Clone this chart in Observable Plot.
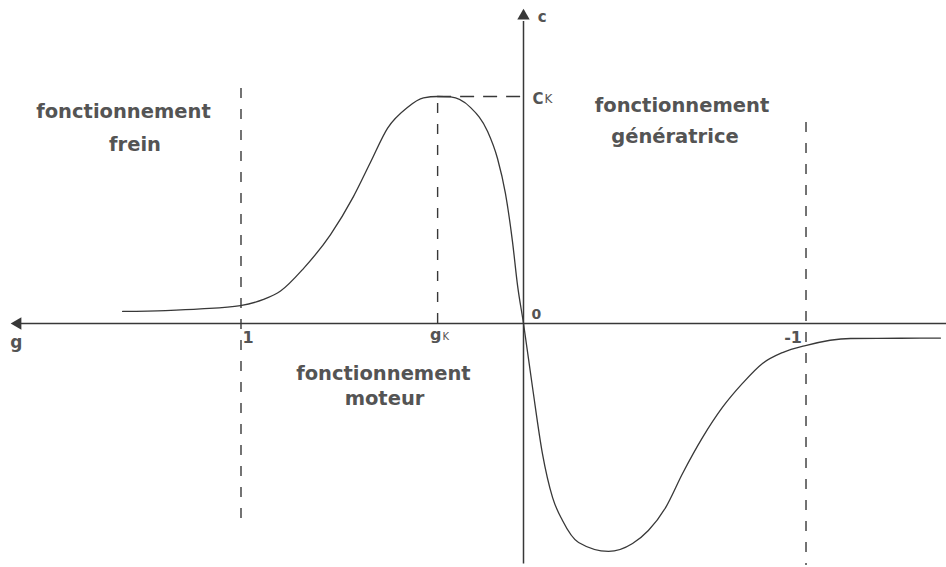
<!DOCTYPE html>
<html>
<head>
<meta charset="utf-8">
<script src="https://cdn.jsdelivr.net/npm/d3@7"></script>
<script src="https://cdn.jsdelivr.net/npm/@observablehq/plot@0.6"></script>
<style>
  html, body { margin: 0; padding: 0; background: #ffffff; }
  #chart svg { display: block; }
</style>
</head>
<body>
<div id="chart"></div>
<script>
// Torque–slip characteristic C(g) of an induction machine
const slip = [1.419, 1.267, 1.143, 1.002, 0.920, 0.860, 0.779, 0.683, 0.602, 0.542, 0.481, 0.411, 0.354, 0.304, 0.258, 0.188, 0.127, 0.092, 0.064, 0.039, 0.021, 0,
              -0.032, -0.067, -0.103, -0.138, -0.195, -0.301, -0.386, -0.442, -0.503, -0.563, -0.634, -0.704, -0.775, -0.846, -0.917, -0.998, -1.158, -1.335, -1.476];
const torque = [0.053, 0.057, 0.064, 0.079, 0.106, 0.143, 0.242, 0.392, 0.559, 0.709, 0.861, 0.952, 0.994, 1.0, 0.998, 0.952, 0.846, 0.727, 0.573, 0.361, 0.167, 0,
                -0.282, -0.573, -0.767, -0.868, -0.965, -1.004, -0.969, -0.912, -0.811, -0.661, -0.502, -0.370, -0.264, -0.176, -0.128, -0.097, -0.066, -0.065, -0.064];

// Remarkable points: breakdown slip / torque, standstill and synchronous-generator limit
const gK = 0.304;
const CK = 1.0;
const regimeBounds = [1, -1];

// Region names
const regionTitles = ["fonctionnement", "fonctionnement", "fonctionnement"];
const regionNames = ["frein", "génératrice", "moteur"];

const curve = slip.map((g, i) => ({g, C: torque[i]}));

const font = "DejaVu Sans, Verdana, sans-serif";
const ink = "#383838";
const textInk = "#545454";

// Annotation anchors (data units); lineAnchor "bottom" puts the baseline on the anchor
const regionText = [
  {g: 1.416, C: 0.907, t: regionTitles[0]},
  {g: 1.375, C: 0.758, t: regionNames[0]},
  {g: -0.561, C: 0.930, t: regionTitles[1]},
  {g: -0.536, C: 0.793, t: regionNames[1]},
  {g: 0.496, C: -0.251, t: regionTitles[2]},
  {g: 0.492, C: -0.361, t: regionNames[2]}
];

const dash = {stroke: ink, strokeWidth: 1.4, strokeDasharray: "10,11"};

const chart = Plot.plot({
  width: 946,
  height: 567,
  margin: 0,
  style: {background: "#ffffff", fontFamily: font},
  x: {domain: [1.8513, -1.4973], axis: null},
  y: {domain: [-1.0749, 1.4229], axis: null},
  marks: [
    // dashed guides at g = 1 and g = -1
    Plot.ruleX([regimeBounds[0]], {y1: 1.035, y2: -0.890, ...dash}),
    Plot.ruleX([regimeBounds[1]], {y1: 0.885, y2: -1.066, ...dash}),
    // breakdown point projections
    Plot.ruleX([gK], {y1: 0, y2: CK, ...dash}),
    Plot.ruleY([CK], {x1: gK, x2: 0, ...dash, strokeDasharray: "14,9"}),
    // axes with arrow heads
    Plot.ruleY([0], {x1: 1.78, x2: -1.4973, stroke: ink, strokeWidth: 1.5}),
    Plot.ruleX([0], {y1: 1.33, y2: -1.06, stroke: ink, strokeWidth: 1.5}),
    Plot.dot([{g: 1.79, C: 0}], {x: "g", y: "C", symbol: "triangle", r: 4.6, fill: ink, stroke: null, rotate: -90}),
    Plot.dot([{g: 0, C: 1.355}], {x: "g", y: "C", symbol: "triangle", r: 4.6, fill: ink, stroke: null}),
    // the characteristic
    Plot.line(curve, {x: "g", y: "C", curve: "monotone-x", stroke: ink, strokeWidth: 1.3}),
    // region labels
    Plot.text(regionText, {x: "g", y: "C", text: "t", lineAnchor: "bottom", textAnchor: "middle",
      fontSize: 19.5, fontWeight: "bold", fill: textInk, fontFamily: font}),
    // axis labels
    Plot.text(["g"], {x: 1.795, y: -0.110, lineAnchor: "bottom", fontSize: 17, fontWeight: "bold", fill: textInk}),
    Plot.text(["c"], {x: -0.050, y: 1.330, lineAnchor: "bottom", textAnchor: "start", fontSize: 15, fontWeight: "bold", fill: textInk}),
    Plot.text(["0"], {x: -0.046, y: 0.022, lineAnchor: "bottom", fontSize: 14, fontWeight: "bold", fill: textInk}),
    Plot.text(["1"], {x: regimeBounds[0], y: -0.084, dx: 7, lineAnchor: "bottom", fontSize: 16, fontWeight: "bold", fill: textInk}),
    Plot.text(["-1"], {x: regimeBounds[1], y: -0.088, dx: -4, lineAnchor: "bottom", textAnchor: "end", fontSize: 16, fontWeight: "bold", fill: textInk}),
    Plot.text(["g"], {x: gK, y: -0.073, dx: -2, lineAnchor: "bottom", fontSize: 16, fontWeight: "bold", fill: textInk}),
    Plot.text(["K"], {x: gK, y: -0.073, dx: 5, lineAnchor: "bottom", textAnchor: "start", fontSize: 10, fill: textInk}),
    Plot.text(["C"], {x: 0, y: CK, dx: 9, dy: 8, lineAnchor: "bottom", textAnchor: "start", fontSize: 15, fontWeight: "bold", fill: textInk}),
    Plot.text(["K"], {x: 0, y: CK, dx: 21, dy: 7, lineAnchor: "bottom", textAnchor: "start", fontSize: 12, fill: textInk})
  ]
});

document.getElementById("chart").appendChild(chart);
</script>
</body>
</html>
